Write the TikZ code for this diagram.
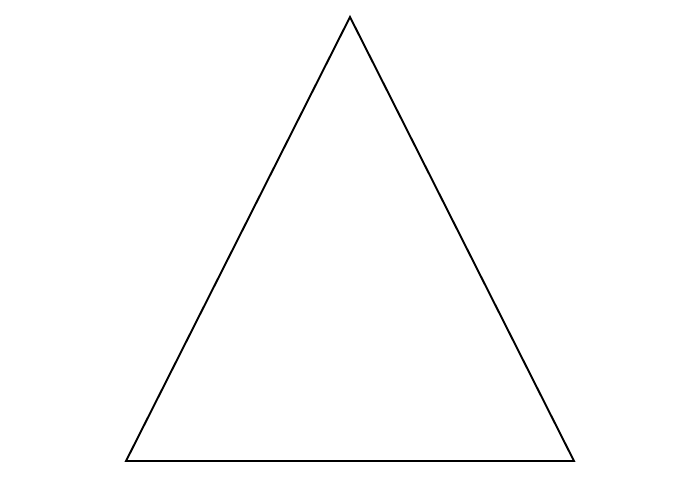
\documentclass[tikz,border=0pt]{standalone}
\begin{document}
\begin{tikzpicture}[x=0.02cm,y=-0.02cm, edge/.style={line width=1.1pt, line join=miter}]
\useasboundingbox (0,0) rectangle (700,485);
\coordinate (top) at (350,17);
\coordinate (bl) at (126,461);
\coordinate (br) at (574,461);
\draw[edge] (top) -- (bl) -- (br) -- cycle;
\end{tikzpicture}
\end{document}
